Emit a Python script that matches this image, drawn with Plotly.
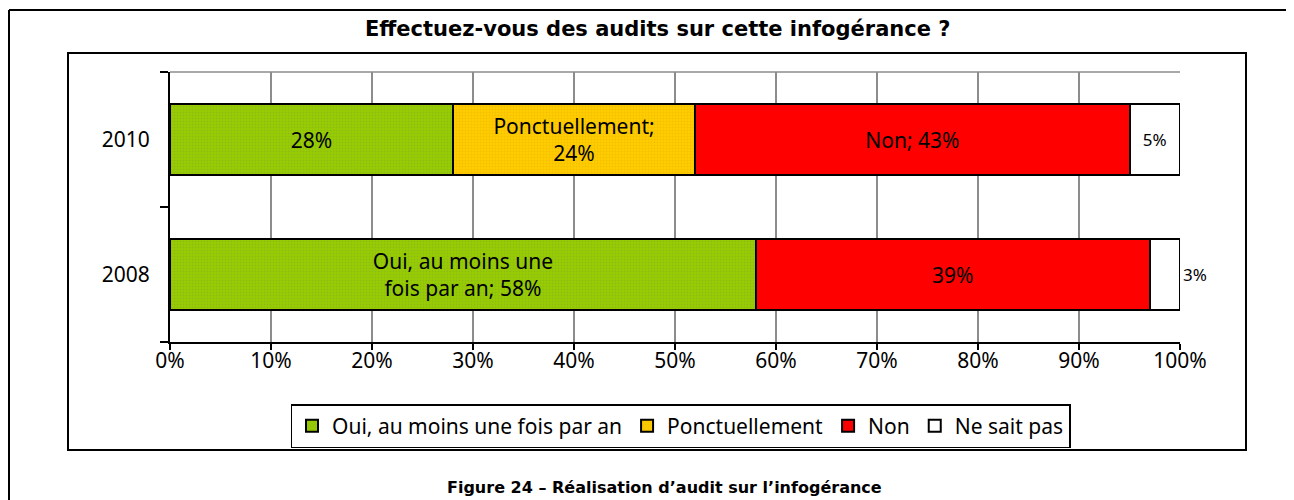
import plotly.graph_objects as go

# ---- data ----
years = ["2008", "2010"]
series_names = ["Oui, au moins une fois par an", "Ponctuellement", "Non", "Ne sait pas"]
oui = [0.58, 0.28]
ponctuellement = [0.0, 0.24]
non = [0.39, 0.43]
ne_sait_pas = [0.03, 0.05]
labels_oui = ["Oui, au moins une<br>fois par an; 58%", "28%"]
labels_ponct = ["", "Ponctuellement;<br>24%"]
labels_non = ["39%", "Non; 43%"]
labels_nsp = ["3%", "5%"]
x_ticks = [0, 0.1, 0.2, 0.3, 0.4, 0.5, 0.6, 0.7, 0.8, 0.9, 1.0]
x_tick_labels = ["0%", "10%", "20%", "30%", "40%", "50%", "60%", "70%", "80%", "90%", "100%"]
title_text = "Effectuez-vous des audits sur cette infogérance ?"
caption_text = "Figure 24 – Réalisation d’audit sur l’infogérance"

# The page body has an 8px margin: the figure is drawn at (8, 8) in the window.
OFF = 8
W, H = 1294 - OFF, 500 - OFF
L, R, T, B = 170 - OFF, 1180 - OFF, 72 - OFF, 342 - OFF  # plot area in figure pixels


def px(x):  # window pixel -> paper x
    return (x - OFF - L) / (R - L)


def py(y):  # window pixel -> paper y
    return (B - (y - OFF)) / (B - T)


FONT = "Noto Sans, Open Sans, sans-serif"
TFONT = "DejaVu Sans, Verdana, sans-serif"
FS = 21

fig = go.Figure()
bw = 0.53
line = dict(color="black", width=2)

fig.add_trace(go.Bar(
    y=years, x=oui, name=series_names[0], orientation="h", width=bw,
    marker=dict(color="#92C400", line=line,
                pattern=dict(shape=".", fgcolor="#7fae2a", bgcolor="#99CC00", size=3, solidity=0.3)),
    text=labels_oui, textposition="inside", insidetextanchor="middle",
    textfont=dict(family=FONT, size=FS, color="black"), textangle=0,
))
fig.add_trace(go.Bar(
    y=years, x=ponctuellement, name=series_names[1], orientation="h", width=bw,
    marker=dict(color="#FFCC00", line=line,
                pattern=dict(shape=".", fgcolor="#e8b400", bgcolor="#FFCC00", size=3, solidity=0.3)),
    text=labels_ponct, textposition="inside", insidetextanchor="middle",
    textfont=dict(family=FONT, size=FS, color="black"), textangle=0,
))
fig.add_trace(go.Bar(
    y=years, x=non, name=series_names[2], orientation="h", width=bw,
    marker=dict(color="#FF0000", line=line),
    text=labels_non, textposition="inside", insidetextanchor="middle",
    textfont=dict(family=FONT, size=FS, color="black"), textangle=0,
))
fig.add_trace(go.Bar(
    y=years, x=ne_sait_pas, name=series_names[3], orientation="h", width=bw,
    marker=dict(color="#FFFFFF", line=line),
    text=labels_nsp, textposition=["outside", "inside"], insidetextanchor="middle",
    textfont=dict(family=FONT, size=17, color="black"), textangle=0,
    cliponaxis=False,
))

shapes = [
    # outer frame (left and top edges)
    dict(type="line", xref="paper", yref="paper", x0=px(9), x1=px(9), y0=py(10), y1=py(520),
         line=dict(color="black", width=2)),
    dict(type="line", xref="paper", yref="paper", x0=px(9), x1=px(1310), y0=py(10), y1=py(10),
         line=dict(color="black", width=2)),
    # inner frame
    dict(type="rect", xref="paper", yref="paper", x0=px(68), x1=px(1246), y0=py(53), y1=py(450),
         line=dict(color="black", width=2)),
    # top border of plot area
    dict(type="line", xref="paper", yref="paper", x0=0, x1=1, y0=1, y1=1,
         line=dict(color="#8c8c8c", width=1.5)),
]

fig.update_layout(
    width=W, height=H,
    margin=dict(l=L, r=W - R, t=T, b=H - B),
    barmode="stack",
    bargap=0.47,
    plot_bgcolor="white", paper_bgcolor="white",
    font=dict(family=FONT, size=FS, color="black"),
    showlegend=True,
    legend=dict(
        orientation="h", xref="container", yref="container",
        x=((275 + 1086) / 2 - OFF) / W, xanchor="center",
        y=1 - (404 - OFF) / H, yanchor="top",
        bordercolor="black", borderwidth=1.5, bgcolor="white",
        font=dict(family=FONT, size=FS), traceorder="normal",
        itemwidth=30,
    ),
    shapes=shapes,
    annotations=[
        dict(text="<b>" + title_text + "</b>", xref="paper", yref="paper",
             x=px(657), y=py(29), showarrow=False, xanchor="center", yanchor="middle",
             font=dict(family=TFONT, size=21, color="black")),
        dict(text="<b>" + caption_text + "</b>", xref="paper", yref="paper",
             x=px(664), y=py(487), showarrow=False, xanchor="center", yanchor="middle",
             font=dict(family=TFONT, size=16, color="black")),
    ],
)

fig.update_xaxes(
    range=[0, 1], tickvals=x_ticks, ticktext=x_tick_labels,
    showgrid=True, gridcolor="#8c8c8c", gridwidth=1.5,
    showline=True, linecolor="black", linewidth=2,
    ticks="outside", ticklen=6, tickcolor="black", tickwidth=1.5,
    tickfont=dict(family=FONT, size=FS), zeroline=False, ticklabelstandoff=-7,
)
fig.update_yaxes(
    type="category", categoryorder="array", categoryarray=years,
    showline=True, linecolor="black", linewidth=2,
    ticks="outside", ticklen=8, tickcolor="black", tickwidth=1.5, tickson="boundaries",
    tickfont=dict(family=FONT, size=FS), showgrid=False, ticklabelstandoff=14,
)

fig.write_html("out.html")
